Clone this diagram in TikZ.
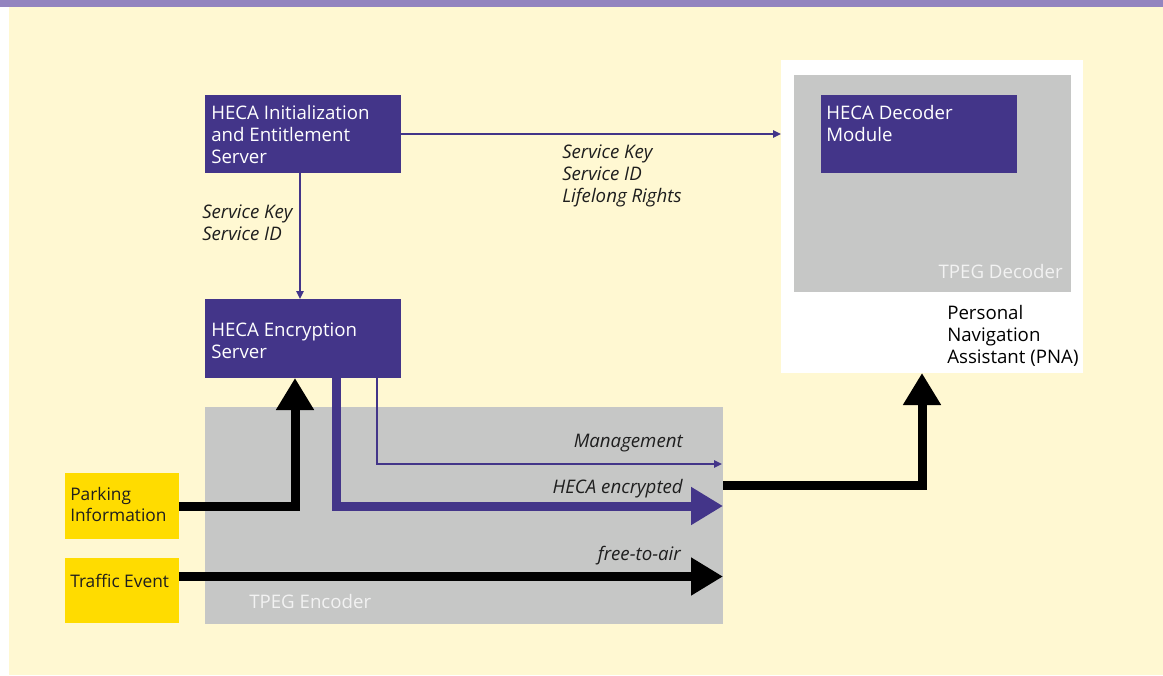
\documentclass[tikz,border=0pt]{standalone}
\usepackage{fontspec}
\setmainfont{Open Sans}
\usetikzlibrary{arrows.meta}
\definecolor{bandc}{HTML}{9384BF}
\definecolor{creamc}{HTML}{FFF8D2}
\definecolor{hecac}{HTML}{433589}
\definecolor{grayc}{HTML}{C6C7C6}
\definecolor{yellowc}{HTML}{FFDC00}
\definecolor{lightlbl}{HTML}{F2F2F2}
\definecolor{txtc}{HTML}{1E1E1E}
\newcommand{\mlines}[1]{\begin{tabular}[t]{@{}l@{}}#1\end{tabular}}
\begin{document}
\begin{tikzpicture}[x=0.75pt,y=-0.75pt,
  sz/.style 2 args={minimum width=#1*0.75pt, minimum height=#2*0.75pt},
  area/.style={anchor=north west, inner sep=0pt, outer sep=0pt, draw=none},
  hecabox/.style={area, fill=hecac},
  graybox/.style={area, fill=grayc},
  inbox/.style={area, fill=yellowc},
  txt/.style={inner sep=0pt, font=\fontsize{14}{16.5}\selectfont},
  intxt/.style={inner sep=0pt, anchor=base west, text=txtc, font=\fontsize{13}{16}\selectfont},
  boxtxt/.style={txt, anchor=base west, text=white},
  lbl/.style={txt, text=txtc, font=\fontsize{14}{16.5}\selectfont\itshape},
  thinarrow/.style={draw=hecac, line width=1.3pt, -{Triangle[width=5.5pt,length=6pt]}, line join=miter},
  thickblack/.style={draw=black, line width=6.75pt, -{Triangle[width=27pt,length=24pt]}, line join=miter},
  thickpurple/.style={draw=hecac, line width=6.75pt, -{Triangle[width=27pt,length=24pt]}, line join=miter}
]
\useasboundingbox (0,0) rectangle (1163,675);
% background
\node[area, fill=creamc, sz={1154}{669}] (bg) at (9,6) {};
\node[area, fill=bandc, sz={1163}{6.5}] (band) at (0,0) {};
% boxes
\node[graybox, sz={518}{217}] (encoder) at (205,407) {};
\node[area, fill=white, sz={302}{313}] (pna) at (781,60) {};
\node[graybox, sz={277}{217}] (decgray) at (794,75) {};
\node[hecabox, sz={196}{78}] (init) at (205,95) {};
\node[hecabox, sz={196}{79}] (enc) at (205,299) {};
\node[hecabox, sz={196}{78}] (decmod) at (821,95) {};
\node[inbox, sz={114}{66}] (park) at (65,473) {};
\node[inbox, sz={114}{65}] (traffic) at (65,558) {};
% connectors
\draw[thinarrow] (init.east) -- (init.east -| pna.west);
\draw[thinarrow] ([shift={(-3,0)}]init.south) -- ([shift={(-3,0)}]enc.north);
\coordinate (mgmt) at (722,464);
\draw[thinarrow] ([shift={(172,0)}]enc.south west) |- (mgmt);
\draw[thickpurple] ([shift={(131,0)}]enc.south west) |- (park.east -| encoder.east);
\draw[thickblack] (park.east) -| ([shift={(90,0)}]enc.south west);
\draw[thickblack] ([shift={(0,-14)}]traffic.east) -- ([shift={(0,-14)}]traffic.east -| encoder.east);
\draw[thickblack] ([shift={(0,78)}]encoder.north east) -| ([shift={(141,0)}]pna.south west);
% texts
\node[boxtxt] (tinit) at (211,119) {\mlines{HECA Initialization\\and Entitlement\\Server}};
\node[boxtxt] (tenc) at (211,336) {\mlines{HECA Encryption\\Server}};
\node[boxtxt] (tdec) at (826,119) {\mlines{HECA Decoder\\Module}};
\node[intxt] (tpark) at (70,500) {\mlines{Parking\\Information}};
\node[intxt] (ttraffic) at (70,587) {Traffic Event};
\node[txt, anchor=base west, text=black] (tpna) at (947,319) {\mlines{Personal\\Navigation\\Assistant (PNA)}};
\node[txt, anchor=base west, text=lightlbl] (tenco) at (249,608) {TPEG Encoder};
\node[txt, anchor=base east, text=lightlbl] (tdeco) at (1063,278) {TPEG Decoder};
\node[lbl, anchor=base west] (l1) at (202,218) {\mlines{Service Key\\Service ID}};
\node[lbl, anchor=base west] (l2) at (562,158) {\mlines{Service Key\\Service ID\\Lifelong Rights}};
\node[lbl, anchor=base east] (l3) at (683,447) {Management};
\node[lbl, anchor=base east] (l4) at (683,493) {HECA encrypted};
\node[lbl, anchor=base east] (l5) at (681,560) {free-to-air};
\end{tikzpicture}
\end{document}
